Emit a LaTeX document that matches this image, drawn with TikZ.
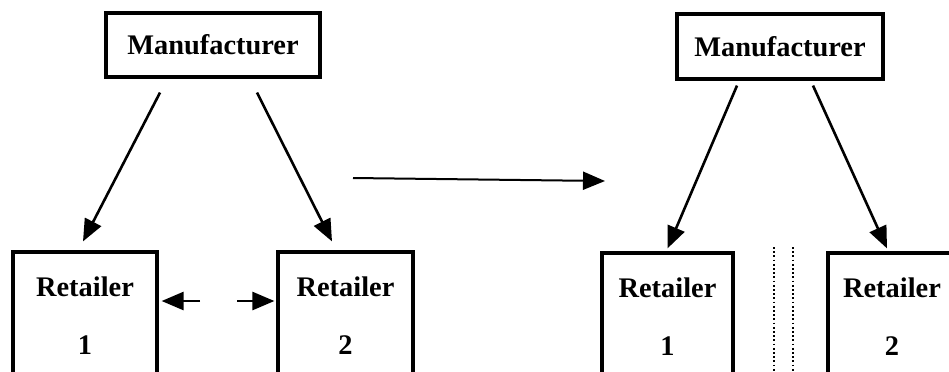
\documentclass[tikz,border=0pt]{standalone}
\usepackage{fontspec}
\setmainfont{Liberation Serif}
\usetikzlibrary{arrows.meta}
\begin{document}
\begin{tikzpicture}[x=1bp,y=-1bp,
  box/.style={draw,line width=3.2bp,inner sep=0pt,font=\fontsize{28.5}{31}\selectfont\bfseries},
  shop/.style={box,align=center,minimum height=127bp},
  arr/.style={line width=2.6bp,-{Triangle[length=22bp,width=18bp]}}]
\useasboundingbox (0,0) rectangle (949,371);
\clip (0,0) rectangle (949,371);
\node [box,minimum width=214bp,minimum height=64bp] (manL) at (213,45) {Manufacturer};
\node [box,minimum width=206bp,minimum height=65bp] (manR) at (780,46.5) {Manufacturer};
\node [shop,minimum width=144bp] (retL1) at (85,315.5) {Retailer\\[27bp]1};
\node [shop,minimum width=135bp] (retL2) at (345.5,315.5) {Retailer\\[27bp]2};
\node [shop,minimum width=131bp] (retR1) at (667.5,316.5) {Retailer\\[27bp]1};
\node [shop,minimum width=128bp] (retR2) at (892,316.5) {Retailer\\[27bp]2};
\draw [arr] ([xshift=-53bp,yshift=-14bp]manL.south) -- ([xshift=-2bp,yshift=9bp]retL1.north);
\draw [arr] ([xshift=44bp,yshift=-14bp]manL.south) -- ([xshift=-13.5bp,yshift=9bp]retL2.north);
\draw [arr] ([xshift=-43bp,yshift=-5bp]manR.south) -- ([yshift=3bp]retR1.north);
\draw [arr] ([xshift=33bp,yshift=-5bp]manR.south) -- ([xshift=-5bp,yshift=3bp]retR2.north);
\coordinate (from) at (353,178);
\coordinate (to) at (605,181);
\draw [arr,line width=2bp] (from) -- (to);
\coordinate (midL) at (200,301);
\coordinate (midR) at (237,301);
\draw [arr] (midL) -- ([xshift=3bp]retL1.east |- midL);
\draw [arr] (midR) -- ([xshift=-2bp]retL2.west |- midR);
\draw [line width=1.8bp,dash pattern=on 1.8bp off 2.4bp] (774,247) -- (774,371);
\draw [line width=1.8bp,dash pattern=on 1.8bp off 2.4bp] (793,247) -- (793,371);
\end{tikzpicture}
\end{document}
